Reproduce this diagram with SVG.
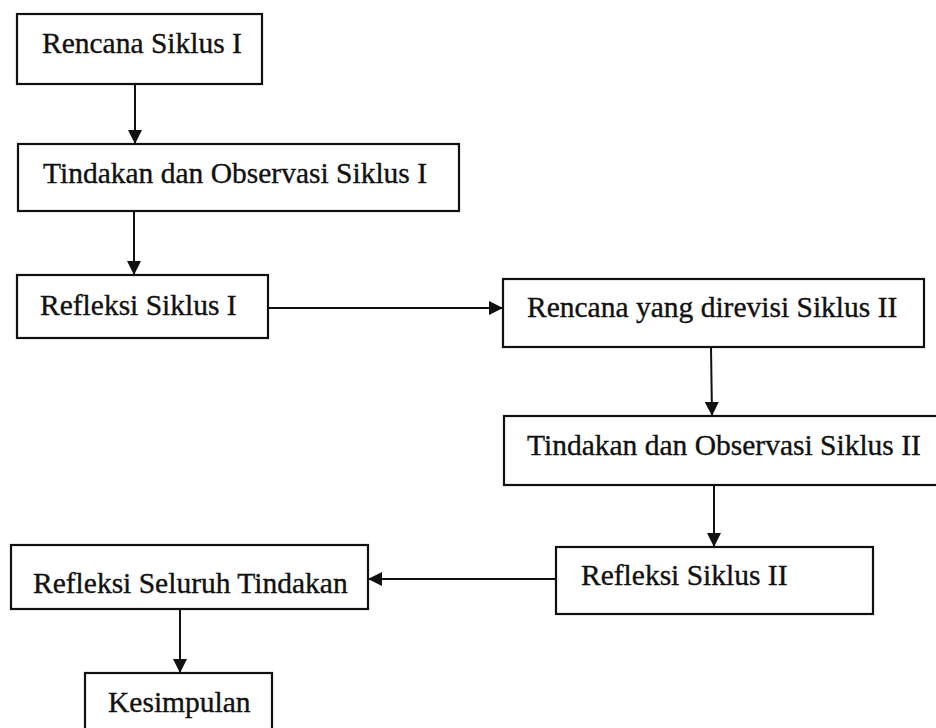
<svg xmlns="http://www.w3.org/2000/svg" width="936" height="728" viewBox="0 0 936 728">
<style>
.box{fill:#fff;stroke:#111;stroke-width:2.2}
.lbl{font-family:"Liberation Serif","Times New Roman",serif;font-size:29.5px;fill:#111;stroke:#111;stroke-width:0.35}
.con{stroke:#111;stroke-width:2;fill:none}
</style>
<defs>
<marker id="ah" viewBox="0 0 14 14" refX="14" refY="7" markerWidth="14" markerHeight="14" markerUnits="userSpaceOnUse" orient="auto">
<path d="M0,0 L14,7 L0,14 Z" fill="#111"/>
</marker>
</defs>
<rect width="936" height="728" fill="#fff"/>
<g id="connectors">
<line class="con" x1="135" y1="84" x2="135" y2="144" marker-end="url(#ah)"/>
<line class="con" x1="134" y1="211" x2="134" y2="275" marker-end="url(#ah)"/>
<line class="con" x1="268" y1="308" x2="503" y2="308" marker-end="url(#ah)"/>
<line class="con" x1="711" y1="347" x2="712" y2="416" marker-end="url(#ah)"/>
<line class="con" x1="714" y1="485" x2="714" y2="547" marker-end="url(#ah)"/>
<line class="con" x1="556" y1="579" x2="368" y2="579" marker-end="url(#ah)"/>
<line class="con" x1="180" y1="609" x2="180" y2="673" marker-end="url(#ah)"/>
</g>
<g id="n1"><rect class="box" x="17" y="14" width="245" height="70"/><text class="lbl" x="42" y="53">Rencana Siklus I</text></g>
<g id="n2"><rect class="box" x="18" y="144" width="441" height="67"/><text class="lbl" x="43" y="183">Tindakan dan Observasi Siklus I</text></g>
<g id="n3"><rect class="box" x="17" y="275" width="251" height="63"/><text class="lbl" x="40" y="315">Refleksi Siklus I</text></g>
<g id="n4"><rect class="box" x="503" y="279" width="421" height="68"/><text class="lbl" x="527" y="317">Rencana yang direvisi Siklus II</text></g>
<g id="n5"><rect class="box" x="504" y="416" width="440" height="69"/><text class="lbl" x="527" y="455">Tindakan dan Observasi Siklus II</text></g>
<g id="n6"><rect class="box" x="556" y="547" width="317" height="67"/><text class="lbl" x="581" y="585">Refleksi Siklus II</text></g>
<g id="n7"><rect class="box" x="11" y="545" width="357" height="64"/><text class="lbl" x="33" y="593">Refleksi Seluruh Tindakan</text></g>
<g id="n8"><rect class="box" x="85" y="673" width="187" height="70"/><text class="lbl" x="108" y="712">Kesimpulan</text></g>
</svg>
